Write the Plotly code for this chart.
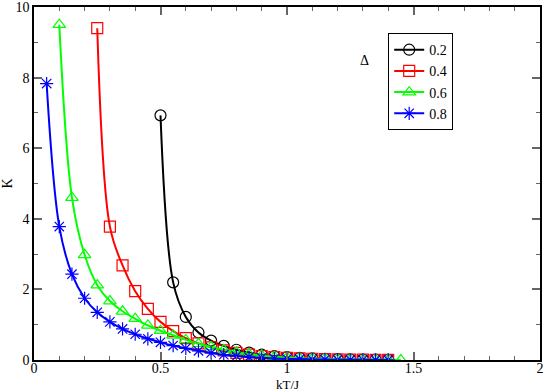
import plotly.graph_objects as go

kt_02 = [0.5, 0.55, 0.6, 0.65, 0.7, 0.75, 0.8, 0.85, 0.9, 0.95, 1.0, 1.05, 1.1, 1.15, 1.2, 1.25, 1.3, 1.35, 1.4]
k_02 = [6.93, 2.2, 1.22, 0.78, 0.55, 0.4, 0.29, 0.21, 0.15, 0.11, 0.08, 0.06, 0.045, 0.035, 0.025, 0.018, 0.012, 0.008, 0.005]

kt_04 = [0.25, 0.3, 0.35, 0.4, 0.45, 0.5, 0.55, 0.6, 0.65, 0.7, 0.75, 0.8, 0.85, 0.9, 0.95, 1.0, 1.05, 1.1, 1.15, 1.2, 1.25, 1.3, 1.35, 1.4]
k_04 = [9.4, 3.78, 2.68, 1.95, 1.45, 1.08, 0.82, 0.62, 0.47, 0.36, 0.27, 0.2, 0.15, 0.11, 0.08, 0.06, 0.045, 0.035, 0.025, 0.018, 0.012, 0.008, 0.005, 0.003]

kt_06 = [0.1, 0.15, 0.2, 0.25, 0.3, 0.35, 0.4, 0.45, 0.5, 0.55, 0.6, 0.65, 0.7, 0.75, 0.8, 0.85, 0.9, 0.95, 1.0, 1.05, 1.1, 1.15, 1.2, 1.25, 1.3, 1.35, 1.4, 1.45]
k_06 = [9.5, 4.6, 2.98, 2.12, 1.67, 1.38, 1.17, 0.98, 0.83, 0.7, 0.57, 0.46, 0.37, 0.29, 0.22, 0.17, 0.13, 0.09, 0.07, 0.05, 0.04, 0.03, 0.02, 0.015, 0.01, 0.007, 0.005, 0.0]

kt_08 = [0.05, 0.1, 0.15, 0.2, 0.25, 0.3, 0.35, 0.4, 0.45, 0.5, 0.55, 0.6, 0.65, 0.7, 0.75, 0.8, 0.85, 0.9, 0.95, 1.0, 1.05, 1.1, 1.15, 1.2, 1.25, 1.3, 1.35, 1.4]
k_08 = [7.83, 3.78, 2.43, 1.75, 1.35, 1.08, 0.88, 0.73, 0.6, 0.5, 0.41, 0.33, 0.26, 0.2, 0.15, 0.11, 0.08, 0.06, 0.04, 0.03, 0.022, 0.016, 0.012, 0.008, 0.006, 0.004, 0.003, 0.002]

x_ticks = [0, 0.5, 1, 1.5, 2]
x_labels = ["0", "0.5", "1", "1.5", "2"]
y_ticks = [0, 2, 4, 6, 8, 10]

series = [
    ("0.2", kt_02, k_02, "black", "circle-open"),
    ("0.4", kt_04, k_04, "red", "square-open"),
    ("0.6", kt_06, k_06, "#00ff00", "triangle-up-open"),
    ("0.8", kt_08, k_08, "blue", "asterisk-open"),
]

serif = "Liberation Serif"

fig = go.Figure()
for name, x, y, col, sym in series:
    fig.add_trace(go.Scatter(x=x, y=y, mode="lines+markers", name=name, line_shape="spline",
                             line=dict(color=col, width=2),
                             marker=dict(symbol=sym, size=11, color=col, line=dict(color=col, width=1.2))))

fig.add_annotation(text="Δ", x=0.654, y=0.876, xref="paper", yref="paper", showarrow=False,
                   font=dict(family=serif, size=14, color="black"))
# x title placed by hand, plotly's own one collides with the tick labels
fig.add_annotation(text="kT/J", x=0.5, y=-0.069, xref="paper", yref="paper", showarrow=False,
                   yanchor="middle", borderpad=0, font=dict(family=serif, size=13, color="black"))

axis_common = dict(showline=True, linecolor="black", linewidth=1.5, mirror="ticks", ticks="inside",
                   tickcolor="#666666", ticklen=8, tickwidth=1.5, showgrid=False, zeroline=False,
                   automargin=False, ticklabeloverflow="allow",
                   tickfont=dict(family=serif, size=14, color="black"))
fig.update_xaxes(range=[0, 2], tickvals=x_ticks, ticktext=x_labels, ticklabelstandoff=-6,
                 minor=dict(dtick=0.1, ticks="inside", ticklen=4, tickcolor="#666666", tickwidth=1),
                 **axis_common)
fig.update_yaxes(range=[0, 10], tickvals=y_ticks,
                 minor=dict(dtick=1, ticks="inside", ticklen=4, tickcolor="#666666", tickwidth=1),
                 title=dict(text="K", font=dict(family=serif, size=14), standoff=0), **axis_common)

fig.update_layout(width=545, height=392, margin=dict(l=34, r=5, t=7, b=32),
                  paper_bgcolor="white", plot_bgcolor="white",
                  font=dict(family=serif, color="black"),
                  legend=dict(x=0.70, y=0.926, xanchor="left", yanchor="top", bordercolor="black", borderwidth=1,
                              bgcolor="white", font=dict(family=serif, size=14), itemwidth=30, tracegroupgap=0))
# page body has an 8px default margin; drop it so the figure sits at the window corner
fig.write_html("out.html", config={"displayModeBar": False},
               post_script="document.body.style.margin='0';")
